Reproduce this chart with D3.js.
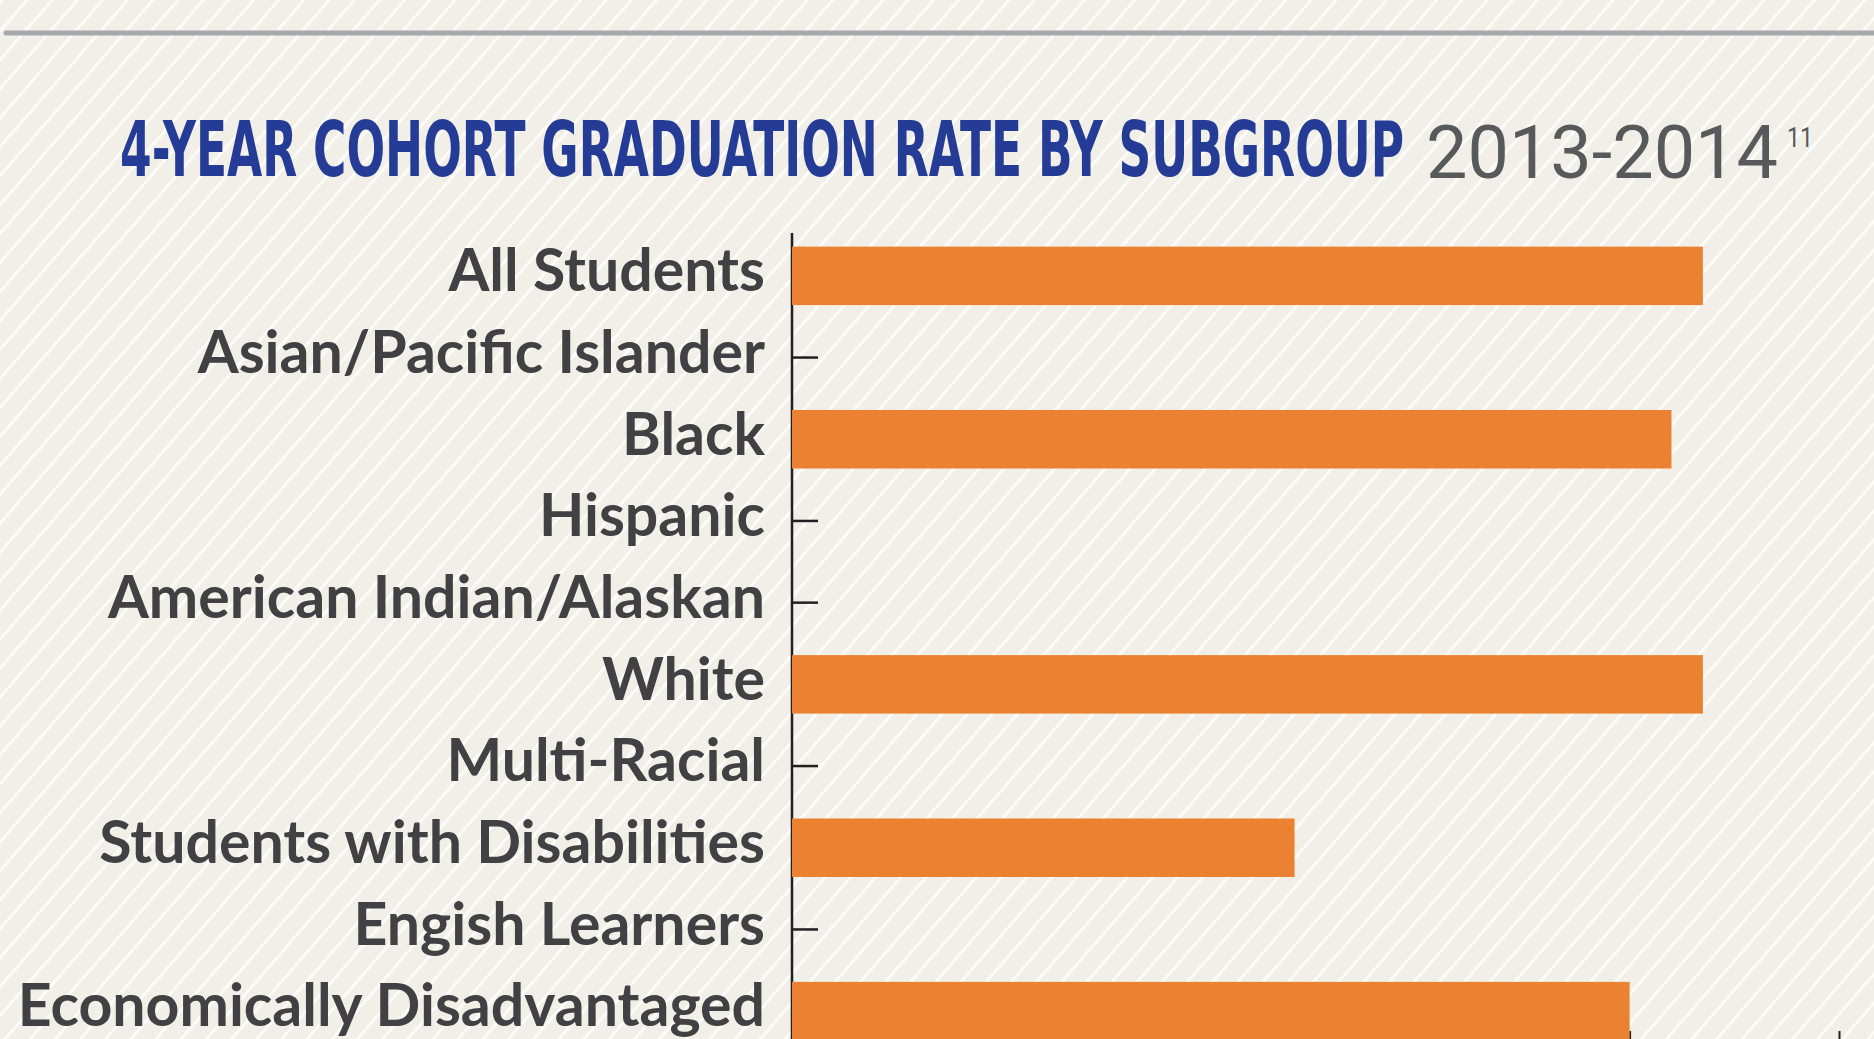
<!DOCTYPE html>
<html>
<head>
<meta charset="utf-8">
<script src="https://cdn.jsdelivr.net/npm/d3@7"></script>
<style>
  html, body { margin: 0; padding: 0; background: #f1efe8; overflow: hidden; }
  svg { display: block; }
</style>
</head>
<body>
<svg id="chart" width="1874" height="1039"></svg>
<script>
// data (graduation rate, null = no bar shown)
const subgroups = ['All Students', 'Asian/Pacific Islander', 'Black', 'Hispanic',
  'American Indian/Alaskan', 'White', 'Multi-Racial', 'Students with Disabilities',
  'Engish Learners', 'Economically Disadvantaged'];
const rates = [0.87, null, 0.84, null, null, 0.87, null, 0.48, null, 0.80];
const xTicks = [0, 0.2, 0.4, 0.6, 0.8, 1.0];
const titleText = '4-YEAR COHORT GRADUATION RATE BY SUBGROUP';
const yearText = '2013-2014';
const noteText = '11';

class GradChart {
  constructor(svg_element_id) {
    this.svg = d3.select('#' + svg_element_id);
    const W = 1874, H = 1039;

    // striped background
    const defs = this.svg.append('defs');
    const pat = defs.append('pattern')
      .attr('id', 'stripes')
      .attr('patternUnits', 'userSpaceOnUse')
      .attr('width', 19).attr('height', 10)
      .attr('patternTransform', 'rotate(41)');
    pat.append('rect').attr('width', 19).attr('height', 10).attr('fill', '#f1efe8');
    pat.append('rect').attr('x', 0).attr('width', 2.8).attr('height', 10).attr('fill', '#fdfcf9');
    this.svg.append('rect').attr('width', W).attr('height', H).attr('fill', 'url(#stripes)');

    // top rule
    this.svg.append('line')
      .attr('x1', 6).attr('x2', W + 10).attr('y1', 33).attr('y2', 33)
      .attr('stroke', '#a7a8ab').attr('stroke-width', 5).attr('stroke-linecap', 'round');

    // title
    this.svg.append('text')
      .attr('x', 120).attr('y', 176)
      .attr('font-family', 'DejaVu Sans Condensed, DejaVu Sans')
      .attr('font-weight', 700)
      .attr('font-size', 76)
      .attr('fill', '#253c96')
      .attr('textLength', 1284).attr('lengthAdjust', 'spacingAndGlyphs')
      .text(titleText);
    this.svg.append('text')
      .attr('x', 1426).attr('y', 178)
      .attr('font-family', 'Roboto, Liberation Sans')
      .attr('font-weight', 400)
      .attr('font-size', 74)
      .attr('fill', '#58595b')
      .attr('textLength', 352).attr('lengthAdjust', 'spacingAndGlyphs')
      .text(yearText);
    this.svg.append('text')
      .attr('x', 1787).attr('y', 147)
      .attr('font-family', 'Roboto, Liberation Sans')
      .attr('font-weight', 400)
      .attr('font-size', 28)
      .attr('fill', '#58595b')
      .attr('textLength', 26).attr('lengthAdjust', 'spacingAndGlyphs')
      .text(noteText);

    // scales
    const x = d3.scaleLinear().domain([0, 1]).range([792, 1839]);
    const y = d3.scaleBand().domain(subgroups).range([235, 1052])
      .paddingInner(0.284).paddingOuter(0.142);

    // x axis (mostly below the visible area)
    this.svg.append('g')
      .attr('transform', 'translate(0,1052)')
      .call(d3.axisBottom(x).tickValues(xTicks).tickSizeInner(-21).tickSizeOuter(0).tickFormat(''))
      .call(g => g.selectAll('line').attr('stroke', '#231f20').attr('stroke-width', 2))
      .call(g => g.select('.domain').attr('stroke', '#231f20').attr('stroke-width', 2));

    // y axis with labels on the left, ticks pointing right
    const yAxis = this.svg.append('g')
      .attr('transform', 'translate(792,0)')
      .call(d3.axisLeft(y).tickSizeInner(-26).tickSizeOuter(0).tickPadding(27));
    yAxis.select('.domain')
      .attr('d', 'M0,233V1052')
      .attr('stroke', '#231f20').attr('stroke-width', 2.5);
    yAxis.selectAll('.tick line').attr('stroke', '#231f20').attr('stroke-width', 2.5);
    yAxis.selectAll('.tick text')
      .attr('font-family', 'Lato, Noto Sans')
      .attr('font-weight', 700)
      .attr('font-size', 59)
      .attr('fill', '#414042')
      .attr('dy', '0.26em');

    // bars
    const rows = subgroups.map((s, i) => ({ name: s, value: rates[i] }))
      .filter(d => d.value !== null);
    this.svg.append('g')
      .selectAll('rect')
      .data(rows)
      .join('rect')
        .attr('x', x(0))
        .attr('y', d => y(d.name))
        .attr('width', d => x(d.value) - x(0))
        .attr('height', y.bandwidth())
        .attr('fill', '#ea8231');
  }
}

function whenDocumentLoaded(action) {
  if (document.readyState === 'loading') {
    document.addEventListener('DOMContentLoaded', action);
  } else {
    action();
  }
}

whenDocumentLoaded(() => {
  const chart = new GradChart('chart');
});
</script>
</body>
</html>
